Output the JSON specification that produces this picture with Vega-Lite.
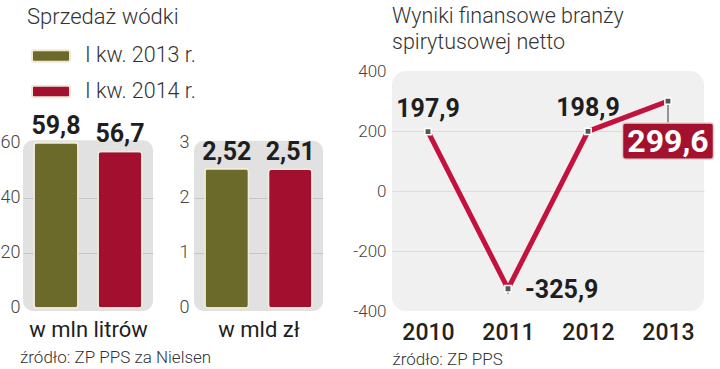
{
  "$schema": "https://vega.github.io/schema/vega-lite/v6.json",
  "background": "white",
  "padding": {"left": 0, "top": 5, "right": 0, "bottom": 0},
  "config": {
    "locale": {"number": {"decimal": ",", "thousands": " ", "grouping": [3], "currency": ["", " zł"], "minus": "-"}},
    "view": {"stroke": null},
    "font": "Roboto",
    "axis": {"ticks": false, "domain": false, "labelFont": "Roboto", "labelFontWeight": 300, "labelColor": "#444", "labelFontSize": 17},
    "title": {"font": "Roboto", "fontWeight": 300, "fontSize": 21, "color": "#333", "anchor": "start"}
  },
  "datasets": {
    "sprzedaz": [
      {"miara": "w mln litrów", "okres": "I kw. 2013 r.", "wartosc": 59.8},
      {"miara": "w mln litrów", "okres": "I kw. 2014 r.", "wartosc": 56.7},
      {"miara": "w mld zł", "okres": "I kw. 2013 r.", "wartosc": 2.52},
      {"miara": "w mld zł", "okres": "I kw. 2014 r.", "wartosc": 2.51}
    ],
    "wyniki": [
      {"rok": "2010", "wynik": 197.9},
      {"rok": "2011", "wynik": -325.9},
      {"rok": "2012", "wynik": 198.9},
      {"rok": "2013", "wynik": 299.6}
    ]
  },
  "spacing": 29,
  "hconcat": [
    {
      "title": {"text": "źródło: ZP PPS za Nielsen", "orient": "bottom", "fontSize": 17, "offset": 10, "dx": 20},
      "spacing": 0,
      "vconcat": [
        {
          "title": {"text": "Sprzedaż wódki", "offset": 42, "fontSize": 22, "dx": 27},
          "spacing": 26,
          "hconcat": [
            {
              "width": 130, "height": 240,
              "data": {"name": "sprzedaz"},
              "transform": [{"filter": "datum.miara === 'w mln litrów'"}],
              "layer": [
                {
                  "mark": {"type": "rect", "color": "#000", "opacity": 0.06, "cornerRadius": 10},
                  "encoding": {
                    "y": {"datum": -1.09, "type": "quantitative", "scale": {"domain": [-1.09, 85.8], "nice": false, "zero": false}, "axis": {"values": [0, 20, 40, 60], "title": null, "grid": true, "gridColor": {"condition": {"test": "datum.value == 20 || datum.value == 40", "value": "#e0e0e0"}, "value": "transparent"}, "labelPadding": 3, "labelFontSize": 18}},
                    "y2": {"datum": 60.7}
                  }
                },
                {
                  "mark": {"type": "bar", "cornerRadius": 3, "stroke": "#f1ecdc", "strokeWidth": 1.5},
                  "encoding": {
                    "x": {"field": "okres", "type": "nominal", "scale": {"paddingInner": 0.3125, "paddingOuter": 0.172}, "axis": {"labels": false, "title": "w mln litrów", "titleFontSize": 22, "titleFontWeight": 400, "titleColor": "#1e1e1e", "titlePadding": 8}},
                    "y": {"field": "wartosc", "type": "quantitative"},
                    "color": {"field": "okres", "type": "nominal", "scale": {"domain": ["I kw. 2013 r.", "I kw. 2014 r."], "range": ["#6b6a2a", "#a30f2e"]},
                      "legend": {"orient": "none", "legendX": 8, "legendY": -35, "title": null, "direction": "vertical", "symbolType": "M-0.9,-0.3H0.9Q1,-0.3 1,-0.2V0.2Q1,0.3 0.9,0.3H-0.9Q-1,0.3 -1,0.2V-0.2Q-1,-0.3 -0.9,-0.3Z", "symbolSize": 1444, "symbolStrokeColor": "#efe9d6", "symbolStrokeWidth": 2, "symbolOpacity": 1, "labelFont": "Roboto", "labelFontWeight": 300, "labelFontSize": 21.5, "labelColor": "#333", "labelOffset": 14, "rowPadding": 4.5, "padding": 0}}
                  }
                },
                {
                  "mark": {"type": "text", "font": "Roboto", "fontWeight": "bold", "fontSize": 25, "dy": -9, "baseline": "alphabetic", "color": "#1e1e1e"},
                  "encoding": {
                    "x": {"field": "okres", "type": "nominal"},
                    "y": {"field": "wartosc", "type": "quantitative"},
                    "text": {"field": "wartosc", "type": "quantitative", "format": ".1f"}
                  }
                }
              ]
            },
            {
              "width": 129, "height": 240,
              "data": {"name": "sprzedaz"},
              "transform": [{"filter": "datum.miara === 'w mld zł'"}],
              "layer": [
                {
                  "mark": {"type": "rect", "color": "#000", "opacity": 0.06, "cornerRadius": 10},
                  "encoding": {
                    "y": {"datum": -0.0545, "type": "quantitative", "scale": {"domain": [-0.0545, 4.291], "nice": false, "zero": false}, "axis": {"values": [0, 1, 2, 3], "title": null, "grid": true, "gridColor": {"condition": {"test": "datum.value == 1 || datum.value == 2", "value": "#e0e0e0"}, "value": "transparent"}, "labelPadding": 5, "labelFontSize": 18}},
                    "y2": {"datum": 3.03}
                  }
                },
                {
                  "mark": {"type": "bar", "cornerRadius": 3, "stroke": "#f1ecdc", "strokeWidth": 1.5},
                  "encoding": {
                    "x": {"field": "okres", "type": "nominal", "scale": {"paddingInner": 0.3125, "paddingOuter": 0.172}, "axis": {"labels": false, "title": "w mld zł", "titleFontSize": 22, "titleFontWeight": 400, "titleColor": "#1e1e1e", "titlePadding": 8}},
                    "y": {"field": "wartosc", "type": "quantitative"},
                    "color": {"field": "okres", "type": "nominal", "scale": {"domain": ["I kw. 2013 r.", "I kw. 2014 r."], "range": ["#6b6a2a", "#a30f2e"]},
                      "legend": {"orient": "none", "legendX": 8, "legendY": -35, "title": null, "direction": "vertical", "symbolType": "M-0.9,-0.3H0.9Q1,-0.3 1,-0.2V0.2Q1,0.3 0.9,0.3H-0.9Q-1,0.3 -1,0.2V-0.2Q-1,-0.3 -0.9,-0.3Z", "symbolSize": 1444, "symbolStrokeColor": "#efe9d6", "symbolStrokeWidth": 2, "symbolOpacity": 1, "labelFont": "Roboto", "labelFontWeight": 300, "labelFontSize": 21.5, "labelColor": "#333", "labelOffset": 14, "rowPadding": 4.5, "padding": 0}}
                  }
                },
                {
                  "mark": {"type": "text", "font": "Roboto", "fontWeight": "bold", "fontSize": 25, "dy": -9, "baseline": "alphabetic", "color": "#1e1e1e"},
                  "encoding": {
                    "x": {"field": "okres", "type": "nominal"},
                    "y": {"field": "wartosc", "type": "quantitative"},
                    "text": {"field": "wartosc", "type": "quantitative", "format": ".2f"}
                  }
                }
              ]
            }
          ]
        }
      ]
    },
    {
      "width": 312, "height": 240,
      "title": {"text": ["Wyniki finansowe branży", "spirytusowej netto"], "lineHeight": 26, "offset": 9, "fontSize": 21.5, "frame": "group"},
      "view": {"fill": "#f0f0f0", "cornerRadius": 14, "stroke": null},
      "data": {"name": "wyniki"},
      "encoding": {
        "x": {"field": "rok", "type": "ordinal", "scale": {"type": "point", "padding": 0.45},
          "axis": {"labelAngle": 0, "labelFontSize": 23, "labelFontWeight": 500, "labelColor": "#222", "labelPadding": 10, "title": "źródło: ZP PPS", "titleFontSize": 17, "titleFontWeight": 300, "titleColor": "#333", "titleAnchor": "start", "titleAlign": "left", "titlePadding": 7}},
        "y": {"field": "wynik", "type": "quantitative", "scale": {"domain": [-400, 400], "nice": false},
          "axis": {"values": [-400, -200, 0, 200, 400], "title": null, "grid": true, "gridColor": {"condition": {"test": "abs(datum.value) < 300", "value": "#dcdcdc"}, "value": "transparent"}, "labelPadding": 6}}
      },
      "layer": [
        {"mark": {"type": "line", "color": "#c4123f", "strokeWidth": 5}},
        {
          "transform": [{"filter": "datum.rok === '2013'"}],
          "mark": {"type": "rule", "color": "#555", "strokeWidth": 1.2, "y2Offset": 22},
          "encoding": {"y2": {"field": "wynik"}}
        },
        {"mark": {"type": "point", "shape": "square", "size": 40, "filled": true, "color": "#555", "stroke": "white", "strokeWidth": 1.5, "opacity": 1}},
        {
          "transform": [{"filter": "datum.rok === '2013'"}],
          "mark": {"type": "point", "shape": "M-0.94,-0.396H0.94Q1,-0.396 1,-0.34V0.34Q1,0.396 0.94,0.396H-0.94Q-1,0.396 -1,0.34V-0.34Q-1,-0.396 -0.94,-0.396Z", "size": 8281, "filled": true, "color": "#a3112e", "stroke": "#e8d2d2", "strokeWidth": 1.5, "opacity": 1, "yOffset": 40}
        },
        {
          "transform": [{"filter": "datum.rok === '2013'"}],
          "mark": {"type": "text", "font": "Roboto", "fontWeight": "bold", "fontSize": 32, "baseline": "middle", "dy": 41, "color": "white"},
          "encoding": {"text": {"field": "wynik", "type": "quantitative", "format": ".1f"}}
        },
        {
          "transform": [{"filter": "datum.rok === '2010' || datum.rok === '2012'"}],
          "mark": {"type": "text", "font": "Roboto", "fontWeight": "bold", "fontSize": 25, "baseline": "alphabetic", "dy": -15, "color": "#1e1e1e"},
          "encoding": {"text": {"field": "wynik", "type": "quantitative", "format": ".1f"}}
        },
        {
          "transform": [{"filter": "datum.rok === '2011'"}],
          "mark": {"type": "text", "font": "Roboto", "fontWeight": "bold", "fontSize": 25, "baseline": "middle", "align": "left", "dx": 17, "dy": 1, "color": "#1e1e1e"},
          "encoding": {"text": {"field": "wynik", "type": "quantitative", "format": ".1f"}}
        }
      ]
    }
  ]
}
